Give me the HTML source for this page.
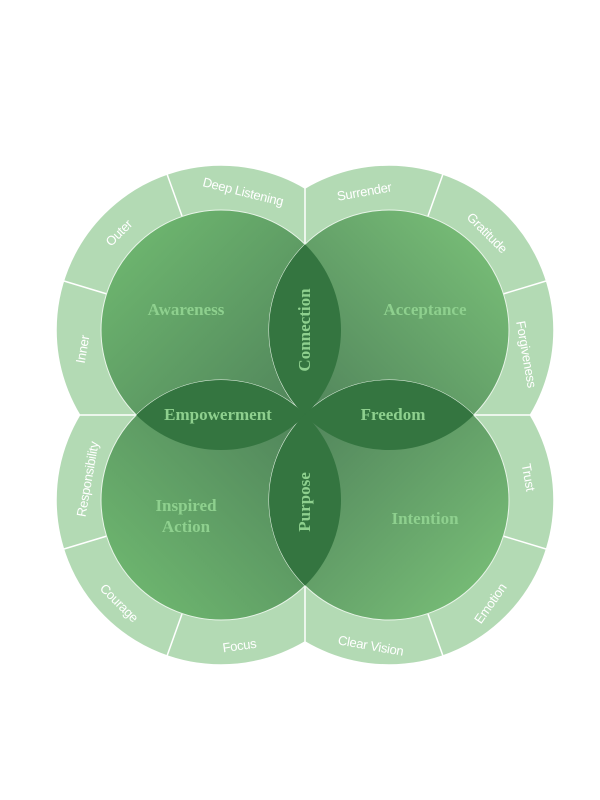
<!DOCTYPE html>
<html><head><style>body{margin:0;background:#fff}svg{display:block}</style></head><body>
<svg width="600" height="800" viewBox="0 0 600 800" xmlns="http://www.w3.org/2000/svg">
<defs>
<linearGradient id="gTL" x1="0" y1="0" x2="1" y2="1"><stop offset="0" stop-color="#72bd72"/><stop offset="1" stop-color="#4a7a56"/></linearGradient>
<linearGradient id="gTR" x1="1" y1="0" x2="0" y2="1"><stop offset="0" stop-color="#7cc47a"/><stop offset="1" stop-color="#4a7a56"/></linearGradient>
<linearGradient id="gBL" x1="0" y1="1" x2="1" y2="0"><stop offset="0" stop-color="#72bd72"/><stop offset="1" stop-color="#4a7a56"/></linearGradient>
<linearGradient id="gBR" x1="1" y1="1" x2="0" y2="0"><stop offset="0" stop-color="#7cc47a"/><stop offset="1" stop-color="#4a7a56"/></linearGradient>
<clipPath id="qTL"><rect x="0" y="0" width="305" height="415"/></clipPath>
<clipPath id="qTR"><rect x="305" y="0" width="300" height="415"/></clipPath>
<clipPath id="qBL"><rect x="0" y="415" width="305" height="400"/></clipPath>
<clipPath id="qBR"><rect x="305" y="415" width="300" height="400"/></clipPath>
<clipPath id="cTL"><circle cx="221" cy="330" r="120"/></clipPath>
<clipPath id="cTR"><circle cx="389" cy="330" r="120"/></clipPath>
<clipPath id="cBL"><circle cx="221" cy="500" r="120"/></clipPath>
<clipPath id="cBR"><circle cx="389" cy="500" r="120"/></clipPath>
</defs>
<g fill="#b3dab4" stroke="#fff" stroke-width="1.5">
<circle cx="221" cy="330" r="165" clip-path="url(#qTL)"/>
<circle cx="389" cy="330" r="165" clip-path="url(#qTR)"/>
<circle cx="221" cy="500" r="165" clip-path="url(#qBL)"/>
<circle cx="389" cy="500" r="165" clip-path="url(#qBR)"/>
</g>
<g stroke="#fff" stroke-width="1.5">
<line x1="305" y1="160" x2="305" y2="415"/><line x1="50" y1="415" x2="560" y2="415"/><line x1="305" y1="415" x2="305" y2="670"/>
<line x1="182" y1="216" x2="167" y2="174"/><line x1="107" y1="294" x2="64" y2="281"/>
<line x1="428" y1="216" x2="443" y2="174"/><line x1="503" y1="294" x2="546" y2="281"/>
<line x1="182" y1="614" x2="167" y2="656"/><line x1="107" y1="536" x2="64" y2="549"/>
<line x1="428" y1="614" x2="443" y2="656"/><line x1="503" y1="536" x2="546" y2="549"/>
</g>
<g stroke="#e8f4e8" stroke-width="1">
<circle cx="221" cy="330" r="120" fill="url(#gTL)"/>
<circle cx="389" cy="330" r="120" fill="url(#gTR)"/>
<circle cx="221" cy="500" r="120" fill="url(#gBL)"/>
<circle cx="389" cy="500" r="120" fill="url(#gBR)"/>
</g>
<g fill="#347540">
<circle cx="389" cy="330" r="120" clip-path="url(#cTL)"/>
<circle cx="221" cy="500" r="120" clip-path="url(#cTL)"/>
<circle cx="389" cy="500" r="120" clip-path="url(#cTR)"/>
<circle cx="389" cy="500" r="120" clip-path="url(#cBL)"/>
</g>
<g font-family="Liberation Serif, serif" font-weight="bold" font-size="17" fill="#8ed08e" text-anchor="middle">
<text x="186" y="315">Awareness</text>
<text x="425" y="315">Acceptance</text>
<text x="218" y="420">Empowerment</text>
<text x="393" y="420">Freedom</text>
<text x="186" y="511">Inspired</text>
<text x="186" y="532">Action</text>
<text x="425" y="524">Intention</text>
<text transform="translate(310,330) rotate(-90)">Connection</text>
<text transform="translate(310,502) rotate(-90)">Purpose</text>
</g>
<g font-family="Liberation Sans, sans-serif" font-size="13" fill="#fff" text-anchor="middle" letter-spacing="-0.3">
<text transform="translate(242,196) rotate(14)">Deep Listening</text>
<text transform="translate(122,236) rotate(-45)">Outer</text>
<text transform="translate(87,350) rotate(-80)">Inner</text>
<text transform="translate(365,196) rotate(-10)">Surrender</text>
<text transform="translate(484,236) rotate(45)">Gratitude</text>
<text transform="translate(522,355) rotate(80)">Forgiveness</text>
<text transform="translate(524,478) rotate(80)">Trust</text>
<text transform="translate(494,606) rotate(-55)">Emotion</text>
<text transform="translate(370,650) rotate(10)">Clear Vision</text>
<text transform="translate(240,650) rotate(-8)">Focus</text>
<text transform="translate(116,606) rotate(45)">Courage</text>
<text transform="translate(92,480) rotate(-80)">Responsibility</text>
</g>
</svg>
</body></html>
